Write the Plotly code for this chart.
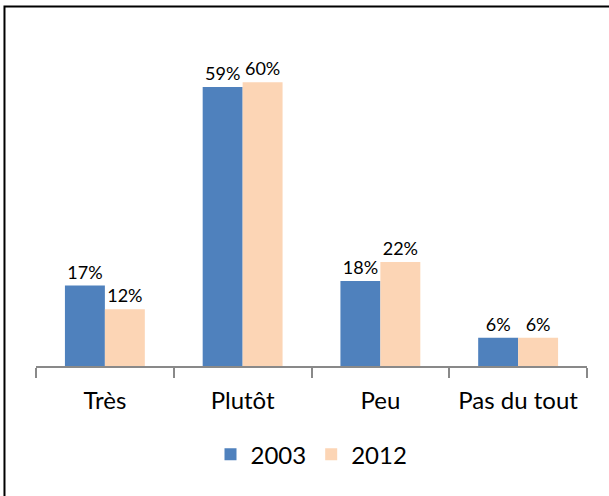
import plotly.graph_objects as go

categories = ["Très", "Plutôt", "Peu", "Pas du tout"]
values_2003 = [0.17, 0.59, 0.18, 0.06]
values_2012 = [0.12, 0.60, 0.22, 0.06]
labels_2003 = ["17%", "59%", "18%", "6%"]
labels_2012 = ["12%", "60%", "22%", "6%"]

FONT = "Lato, 'Open Sans', sans-serif"

fig = go.Figure()
fig.add_trace(go.Bar(
    x=categories, y=values_2003, name="2003",
    marker=dict(color="#4F81BD", line=dict(width=0)),
    text=labels_2003, textposition="outside", cliponaxis=False,
    textfont=dict(size=18, color="black", family=FONT),
))
fig.add_trace(go.Bar(
    x=categories, y=values_2012, name="2012",
    marker=dict(color="#FCD5B5", line=dict(width=0)),
    text=labels_2012, textposition="outside", cliponaxis=False,
    textfont=dict(size=18, color="black", family=FONT),
))

fig.update_layout(
    width=609, height=496,
    margin=dict(l=36, r=22, t=35, b=130),
    paper_bgcolor="white", plot_bgcolor="white",
    barmode="group", bargap=0.42, bargroupgap=0,
    font=dict(family=FONT, size=24, color="black"),
    showlegend=True,
    legend=dict(orientation="h", x=0.5, xanchor="center", y=-0.2, yanchor="top",
                font=dict(size=24, family=FONT), itemwidth=30, traceorder="normal"),
    xaxis=dict(showline=True, linecolor="#898989", linewidth=1.5,
               ticks="outside", tickson="boundaries", ticklen=10, tickcolor="#898989",
               tickwidth=1.5, tickfont=dict(size=24, family=FONT), showgrid=False,
               ticklabelstandoff=12),
    yaxis=dict(range=[0, 0.7], visible=False, showgrid=False),
    shapes=[dict(type="rect", xref="paper", yref="paper",
                 x0=-0.0572, x1=1.06, y0=-0.45, y1=1.086,
                 line=dict(color="black", width=2), fillcolor="rgba(0,0,0,0)")],
)

fig.write_html("out.html", config={"displayModeBar": False},
               post_script="document.body.style.margin='0px';")
